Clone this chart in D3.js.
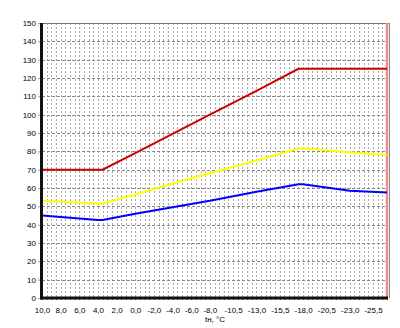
<!DOCTYPE html>
<html>
<head>
<meta charset="utf-8">
<script src="https://cdn.jsdelivr.net/npm/d3@7"></script>
<style>
  body { margin: 0; background: #fff; }
  svg { display: block; }
  text { font-family: "Liberation Sans", Arial, sans-serif; font-size: 8px; fill: #000; }
</style>
</head>
<body>
<svg id="chart" width="400" height="328"></svg>
<script>
// outdoor temperature, °C (x positions of read points)
const tn = [10, 4, 3.5, 0, -4, -8, -13, -17.5, -18, -23, -27];
// curves
const redVals = [70, 70, 70, 79, 89.5, 100, 113, 125, 125, 125, 125];
const yellowVals = [53, 51.5, 51.5, 56.5, 62.5, 68, 75, 81.5, 81.5, 79.5, 78];
const blueVals = [45, 42.5, 42.5, 46, 49.5, 53, 58, 62, 62, 58.5, 57.5];

const xTicks = [10, 8, 6, 4, 2, 0, -2, -4, -6, -8, -10.5, -13, -15.5, -18, -20.5, -23, -25.5];
const yTicks = [0, 10, 20, 30, 40, 50, 60, 70, 80, 90, 100, 110, 120, 130, 140, 150];
const xLabel = 'tн, °C';

const svg = d3.select('#chart');
const pLeft = 42, pRight = 387, pTop = 23, pBottom = 298;

const x = d3.scaleLinear().domain([10, -27]).range([pLeft, pRight]);
const y = d3.scaleLinear().domain([0, 150]).range([pBottom, pTop]);

// grid: dotted verticals every 0.5 degree, dashed horizontals every 10
const gridX = d3.range(20, -55, -1).map(v => v / 2);
svg.append('g')
  .selectAll('line')
  .data(gridX)
  .join('line')
    .attr('x1', d => Math.round(x(d)) + 0.5)
    .attr('x2', d => Math.round(x(d)) + 0.5)
    .attr('y1', pTop)
    .attr('y2', pBottom)
    .attr('stroke', '#a8a8a8')
    .attr('stroke-dasharray', '2,2');

svg.append('g')
  .selectAll('line')
  .data(yTicks)
  .join('line')
    .attr('x1', pLeft)
    .attr('x2', pRight)
    .attr('y1', d => Math.round(y(d)) + 0.5)
    .attr('y2', d => Math.round(y(d)) + 0.5)
    .attr('stroke', '#888')
    .attr('stroke-dasharray', '3,2');

// frame: top and right borders, pink right line
svg.append('line')
  .attr('x1', pLeft).attr('x2', pRight + 2)
  .attr('y1', pTop + 0.5).attr('y2', pTop + 0.5)
  .attr('stroke', '#777');
svg.append('line')
  .attr('x1', pRight).attr('x2', pRight)
  .attr('y1', pTop).attr('y2', pBottom)
  .attr('stroke', '#f28b8b')
  .attr('stroke-width', 2.5);
svg.append('line')
  .attr('x1', pRight + 2.5).attr('x2', pRight + 2.5)
  .attr('y1', pTop).attr('y2', pBottom)
  .attr('stroke', '#888');

// curves
const line = d3.line()
  .x(d => x(d[0]))
  .y(d => y(d[1]));

const series = [
  {vals: yellowVals, color: '#ffff00'},
  {vals: blueVals, color: '#0000ff'},
  {vals: redVals, color: '#cc0000'},
];
svg.append('g')
  .selectAll('path')
  .data(series)
  .join('path')
    .attr('d', s => line(tn.map((t, i) => [t, s.vals[i]])))
    .attr('fill', 'none')
    .attr('stroke', s => s.color)
    .attr('stroke-width', 2);

// axes
const fmt = v => d3.format('.1f')(v).replace('.', ',').replace('−', '-');

const yAxis = svg.append('g')
  .attr('transform', `translate(${pLeft},0)`)
  .call(d3.axisLeft(y).tickValues(yTicks).tickSize(4).tickPadding(2));
yAxis.select('.domain').remove();
yAxis.selectAll('.tick line').attr('stroke', '#8aa8c8');

const xAxis = svg.append('g')
  .attr('transform', `translate(0,${pBottom})`)
  .call(d3.axisBottom(x).tickValues(gridX).tickSize(2).tickFormat(''));
xAxis.select('.domain').remove();
xAxis.selectAll('.tick line').attr('stroke', '#444');

svg.append('g')
  .attr('transform', `translate(0,${pBottom})`)
  .call(d3.axisBottom(x).tickValues(xTicks).tickSize(0).tickPadding(9).tickFormat(fmt))
  .call(g => g.select('.domain').remove());

svg.selectAll('.tick text')
  .attr('font-family', null)
  .attr('font-size', null)
  .attr('fill', '#000');

// thick left and bottom axis lines
svg.append('line')
  .attr('x1', pLeft - 0.5).attr('x2', pLeft - 0.5)
  .attr('y1', pTop).attr('y2', pBottom + 1.5)
  .attr('stroke', '#111').attr('stroke-width', 3);
svg.append('line')
  .attr('x1', pLeft - 2).attr('x2', pRight + 1)
  .attr('y1', pBottom).attr('y2', pBottom)
  .attr('stroke', '#111').attr('stroke-width', 3);

svg.append('text')
  .attr('x', 215)
  .attr('y', 322)
  .attr('text-anchor', 'middle')
  .text(xLabel);
</script>
</body>
</html>
